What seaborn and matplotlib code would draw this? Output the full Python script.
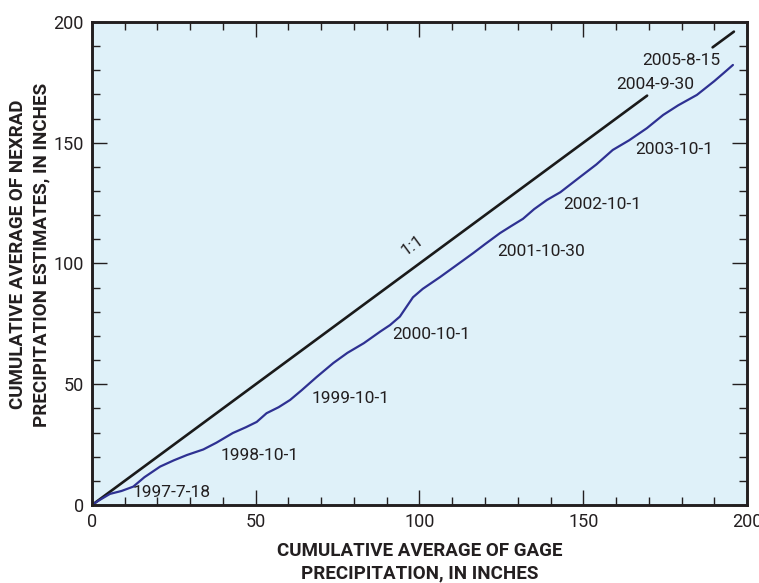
import numpy as np
import matplotlib
matplotlib.use("Agg")
import matplotlib.pyplot as plt
from matplotlib.ticker import MultipleLocator
import seaborn as sns

# Cumulative average values (inches)
gage = [0, 2, 5.5, 9, 12.6, 16, 20.8, 25, 29, 34, 38, 43, 47, 50.3, 53.3, 57,
        60.5, 64, 68.6, 73.7, 78, 83, 88, 91, 94, 96, 98, 101, 106.3, 111,
        116.4, 120, 124.6, 128, 131.6, 135, 138.9, 143, 149, 154, 159, 164,
        169.4, 174.4, 179, 184.7, 190, 193, 195.7]
nexrad = [0, 1.8, 4.6, 5.8, 7.6, 11.5, 15.9, 18.5, 20.7, 23, 25.8, 29.8, 32.2,
          34.4, 38, 40.5, 43.5, 47.5, 53, 58.8, 63, 67, 71.8, 74.5, 78, 82,
          86, 89.5, 94.4, 99, 104.3, 108, 112.6, 115.5, 118.5, 122.5, 126.3,
          129.5, 135.8, 141, 147, 151, 156, 161.5, 165.5, 169.8, 175.5, 179,
          182.2]

# 1:1 line, broken where the top labels sit
one_lo = [0, 169.5]
one_hi = [189.5, 196]

# Date labels along the curve
date_labels = ["1997-7-18", "1998-10-1", "1999-10-1", "2000-10-1", "2001-10-30",
               "2002-10-1", "2003-10-1", "2004-9-30", "2005-8-15"]
label_x = [12.5, 39.4, 67, 91.6, 123.7, 144, 166, 160, 168]
label_y = [5, 20.7, 44, 70.4, 104.8, 124.6, 147, 174, 184]

sns.set_style("ticks")
plt.rcParams["font.family"] = ["Roboto", "DejaVu Sans"]

fig = plt.figure(figsize=(7.59, 5.83), dpi=100)
ax = fig.add_axes([0.1212, 0.1338, 0.863, 0.8285])
ax.set_facecolor("#dff1f9")

sns.lineplot(x=one_lo, y=one_lo, color="#1a1a1a", lw=1.9, ax=ax)
sns.lineplot(x=one_hi, y=one_hi, color="#1a1a1a", lw=1.9, ax=ax)
sns.lineplot(x=gage, y=nexrad, color="#2e3192", lw=1.6, sort=False,
             estimator=None, ax=ax)

for txt, x, y in zip(date_labels, label_x, label_y):
    ax.text(x, y, txt, fontsize=12.5, color="#231f20", va="center", ha="left")

ax.text(98, 107.5, "1:1", fontsize=12.5, color="#231f20", rotation=36.4,
        ha="center", va="center", rotation_mode="anchor")

ax.set_xlim(0, 200)
ax.set_ylim(0, 200)
ax.xaxis.set_major_locator(MultipleLocator(50))
ax.yaxis.set_major_locator(MultipleLocator(50))
ax.xaxis.set_minor_locator(MultipleLocator(10))
ax.yaxis.set_minor_locator(MultipleLocator(10))
ax.tick_params(which="both", direction="in", top=True, right=True,
               color="#231f20", width=1.0, labelsize=13,
               labelcolor="#231f20")
ax.tick_params(which="major", length=11, pad=6)
ax.tick_params(which="minor", length=5.5)
for s in ax.spines.values():
    s.set_linewidth(2.1)
    s.set_color("#231f20")

fig.text(0.553, 0.036, "CUMULATIVE AVERAGE OF GAGE\nPRECIPITATION, IN INCHES",
         ha="center", va="center", fontsize=13.5, fontweight="bold",
         color="#231f20", linespacing=1.35)
fig.text(0.039, 0.563, "CUMULATIVE AVERAGE OF NEXRAD\nPRECIPITATION ESTIMATES, IN INCHES",
         ha="center", va="center", rotation=90, fontsize=13.5,
         fontweight="bold", color="#231f20", linespacing=1.35)

fig.savefig("out.png", dpi=100)
